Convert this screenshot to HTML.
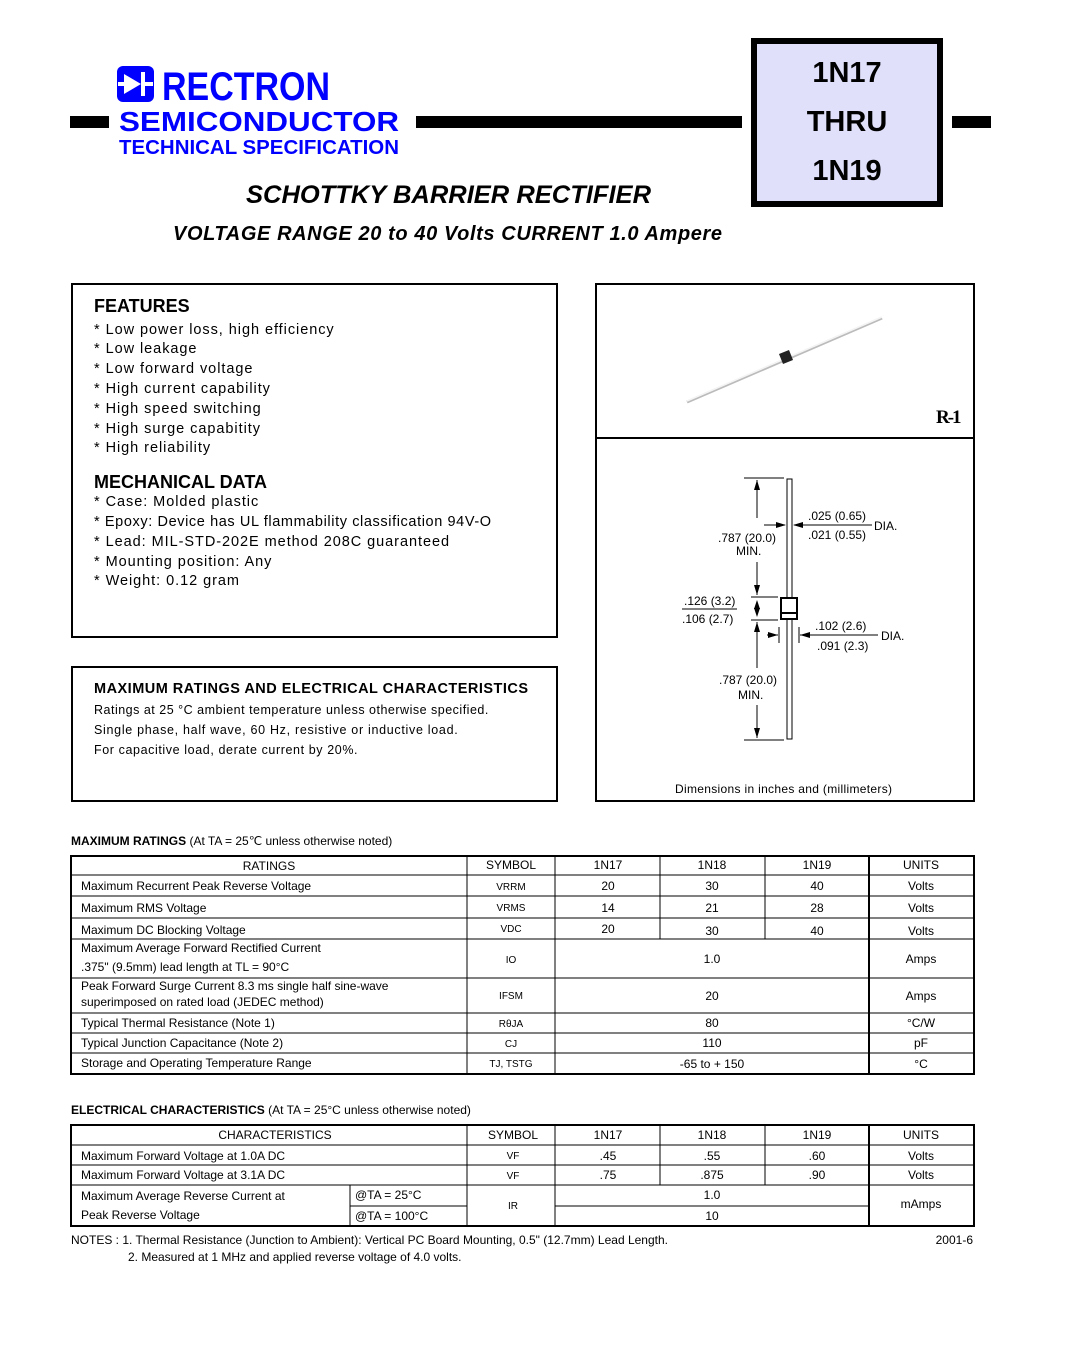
<!DOCTYPE html>
<html><head><meta charset="utf-8"><style>
html,body{margin:0;padding:0;background:#fff}
svg{display:block}
text{font-family:"Liberation Sans",Arial,sans-serif;fill:#000}
.t{font-size:12px}
.c{text-anchor:middle}
.f{font-size:14.5px;letter-spacing:0.95px}
.h{font-size:18px;font-weight:bold}
.d{font-size:12px}
</style></head><body>
<svg width="1069" height="1352" viewBox="0 0 1069 1352" xmlns="http://www.w3.org/2000/svg" xml:space="preserve">
<rect x="70" y="116" width="39" height="12" fill="#000"/>
<rect x="416" y="116" width="326" height="12" fill="#000"/>
<rect x="952" y="116" width="39" height="12" fill="#000"/>
<rect x="117" y="66" width="37" height="36" rx="6" fill="#0000ff"/>
<polygon points="124,74 141,84 124,94" fill="#fff"/>
<rect x="141" y="72" width="4" height="24" fill="#fff"/>
<rect x="118" y="82" width="8" height="4" fill="#fff"/>
<rect x="143" y="82" width="10" height="4" fill="#fff"/>
<text x="162" y="100" style="font-size:40px;font-weight:bold;fill:#0000ff" textLength="168" lengthAdjust="spacingAndGlyphs">RECTRON</text>
<text x="119" y="131" style="font-size:28px;font-weight:bold;fill:#0000ff" textLength="280" lengthAdjust="spacingAndGlyphs">SEMICONDUCTOR</text>
<text x="119" y="154" style="font-size:20px;font-weight:bold;fill:#0000ff" textLength="280" lengthAdjust="spacingAndGlyphs">TECHNICAL SPECIFICATION</text>
<rect x="754" y="41" width="186" height="163" fill="#e0e0fb" stroke="#000" stroke-width="6"/>
<text x="847" y="82" class="c" style="font-size:29px;font-weight:bold">1N17</text>
<text x="847" y="131" class="c" style="font-size:29px;font-weight:bold">THRU</text>
<text x="847" y="180" class="c" style="font-size:29px;font-weight:bold">1N19</text>
<text x="246" y="203" style="font-size:25px;font-weight:bold;font-style:italic" textLength="405" lengthAdjust="spacingAndGlyphs">SCHOTTKY BARRIER RECTIFIER</text>
<text x="173" y="240" style="font-size:20px;font-weight:bold;font-style:italic" textLength="549" lengthAdjust="spacing">VOLTAGE RANGE  20 to 40 Volts   CURRENT 1.0 Ampere</text>
<rect x="72" y="284" width="485" height="353" fill="none" stroke="#000" stroke-width="2"/>
<text x="94" y="312" class="h">FEATURES</text>
<text x="94" y="334" class="f">* Low power loss, high efficiency</text>
<text x="94" y="353" class="f">* Low leakage</text>
<text x="94" y="373" class="f">* Low forward voltage</text>
<text x="94" y="393" class="f">* High current capability</text>
<text x="94" y="413" class="f">* High speed switching</text>
<text x="94" y="433" class="f">* High surge capabitity</text>
<text x="94" y="452" class="f">* High reliability</text>
<text x="94" y="488" class="h">MECHANICAL DATA</text>
<text x="94" y="506" class="f">* Case: Molded plastic</text>
<text x="94" y="526" class="f" textLength="398" lengthAdjust="spacing">* Epoxy: Device has UL flammability classification 94V-O</text>
<text x="94" y="546" class="f">* Lead: MIL-STD-202E method 208C guaranteed</text>
<text x="94" y="566" class="f">* Mounting position: Any</text>
<text x="94" y="585" class="f">* Weight: 0.12 gram</text>
<rect x="72" y="667" width="485" height="134" fill="none" stroke="#000" stroke-width="2"/>
<text x="94" y="693" style="font-size:14.5px;font-weight:bold" textLength="434" lengthAdjust="spacing">MAXIMUM RATINGS AND ELECTRICAL CHARACTERISTICS</text>
<text x="94" y="714" style="font-size:12.5px;letter-spacing:0.5px">Ratings at 25 °C ambient temperature unless otherwise specified.</text>
<text x="94" y="734" style="font-size:12.5px;letter-spacing:0.7px">Single phase, half wave, 60 Hz, resistive or inductive load.</text>
<text x="94" y="754" style="font-size:12.5px;letter-spacing:0.6px">For capacitive load, derate current by 20%.</text>
<rect x="596" y="284" width="378" height="517" fill="none" stroke="#000" stroke-width="2"/>
<line x1="596" y1="438" x2="974" y2="438" stroke="#000" stroke-width="2"/>
<line x1="687" y1="402" x2="882" y2="318" stroke="#bbb" stroke-width="3"/>
<line x1="687" y1="401" x2="882" y2="317" stroke="#f4f4f4" stroke-width="1.5"/>
<polygon points="779,354 789,350 793,360 783,364" fill="#222"/>
<text x="936" y="423" style="font-family:'Liberation Serif',serif;font-size:19px;font-weight:bold;letter-spacing:-2px">R-1</text>
<g stroke="#000" fill="none" stroke-width="1">
<rect x="787" y="479" width="5" height="119"/>
<rect x="787" y="619" width="5" height="120"/>
<rect x="781" y="598" width="16" height="21" stroke-width="2"/>
<line x1="782" y1="613" x2="796" y2="613" stroke-width="2"/>
<line x1="744" y1="478" x2="784" y2="478"/>
<line x1="744" y1="740" x2="784" y2="740"/>
<line x1="751" y1="597" x2="778" y2="597"/>
<line x1="751" y1="620" x2="778" y2="620"/>
<line x1="757" y1="480" x2="757" y2="518"/>
<line x1="757" y1="562" x2="757" y2="595"/>
<line x1="757" y1="622" x2="757" y2="668"/>
<line x1="757" y1="705" x2="757" y2="738"/>
<line x1="764" y1="525" x2="785" y2="525"/>
<line x1="794" y1="525" x2="872" y2="525"/>
<line x1="767" y1="635" x2="778" y2="635"/>
<line x1="779" y1="627" x2="779" y2="643"/>
<line x1="799" y1="627" x2="799" y2="643"/>
<line x1="800" y1="635" x2="878" y2="635"/>
<line x1="682" y1="609" x2="737" y2="609"/>
</g>
<g fill="#000">
<polygon points="757,480 754,490 760,490"/>
<polygon points="757,595 754,585 760,585"/>
<polygon points="757,600 754,609 760,609"/>
<polygon points="757,617 754,608 760,608"/>
<polygon points="757,622 754,632 760,632"/>
<polygon points="757,738 754,728 760,728"/>
<polygon points="786,525 776,522 776,528"/>
<polygon points="793,525 803,522 803,528"/>
<polygon points="778,635 768,632 768,638"/>
<polygon points="800,635 810,632 810,638"/>
</g>
<text x="808" y="520" class="d">.025 (0.65)</text>
<text x="808" y="539" class="d">.021 (0.55)</text>
<text x="874" y="530" class="d">DIA.</text>
<text x="718" y="542" class="d">.787 (20.0)</text>
<text x="736" y="555" class="d">MIN.</text>
<text x="684" y="605" class="d">.126 (3.2)</text>
<text x="682" y="623" class="d">.106 (2.7)</text>
<text x="815" y="630" class="d">.102 (2.6)</text>
<text x="817" y="650" class="d">.091 (2.3)</text>
<text x="881" y="640" class="d">DIA.</text>
<text x="719" y="684" class="d">.787 (20.0)</text>
<text x="738" y="699" class="d">MIN.</text>
<text x="675" y="793" class="d" textLength="217" lengthAdjust="spacing">Dimensions in inches and (millimeters)</text>

<text x="71" y="845" class="t"><tspan style="font-weight:bold">MAXIMUM RATINGS</tspan> (At TA = 25℃ unless otherwise noted)</text>
<g stroke="#000" stroke-width="1">
<rect x="71" y="856" width="903" height="218" fill="none" stroke-width="2"/>
<line x1="71" y1="875" x2="974" y2="875"/>
<line x1="71" y1="896" x2="974" y2="896"/>
<line x1="71" y1="918" x2="974" y2="918"/>
<line x1="71" y1="939" x2="974" y2="939"/>
<line x1="71" y1="978" x2="974" y2="978"/>
<line x1="71" y1="1013" x2="974" y2="1013"/>
<line x1="71" y1="1033" x2="974" y2="1033"/>
<line x1="71" y1="1053" x2="974" y2="1053"/>
<line x1="467" y1="856" x2="467" y2="1074"/>
<line x1="555" y1="856" x2="555" y2="1074"/>
<line x1="869" y1="856" x2="869" y2="1074" stroke-width="2"/>
<line x1="660" y1="856" x2="660" y2="939"/>
<line x1="765" y1="856" x2="765" y2="939"/>
</g>
<text x="269" y="870" class="c t">RATINGS</text>
<text x="511" y="869" class="c t">SYMBOL</text>
<text x="608" y="869" class="c t">1N17</text>
<text x="712" y="869" class="c t">1N18</text>
<text x="817" y="869" class="c t">1N19</text>
<text x="921" y="869" class="c t">UNITS</text>
<text x="81" y="890" class="t">Maximum Recurrent Peak Reverse Voltage</text>
<text x="81" y="912" class="t">Maximum RMS Voltage</text>
<text x="81" y="934" class="t">Maximum DC Blocking Voltage</text>
<text x="81" y="952" class="t">Maximum Average Forward Rectified Current</text>
<text x="81" y="971" class="t">.375" (9.5mm) lead length at TL = 90°C</text>
<text x="81" y="990" class="t">Peak Forward Surge Current 8.3 ms single half sine-wave</text>
<text x="81" y="1006" class="t">superimposed on rated load (JEDEC method)</text>
<text x="81" y="1027" class="t">Typical Thermal Resistance (Note 1)</text>
<text x="81" y="1047" class="t">Typical Junction Capacitance (Note 2)</text>
<text x="81" y="1067" class="t">Storage and Operating Temperature Range</text>
<g style="font-size:10px">
<text x="511" y="890" class="c">VRRM</text>
<text x="511" y="911" class="c">VRMS</text>
<text x="511" y="932" class="c">VDC</text>
<text x="511" y="963" class="c">IO</text>
<text x="511" y="999" class="c">IFSM</text>
<text x="511" y="1027" class="c">RθJA</text>
<text x="511" y="1047" class="c">CJ</text>
<text x="511" y="1067" class="c">TJ, TSTG</text>
</g>
<text x="608" y="890" class="c t">20</text><text x="712" y="890" class="c t">30</text><text x="817" y="890" class="c t">40</text><text x="921" y="890" class="c t">Volts</text>
<text x="608" y="912" class="c t">14</text><text x="712" y="912" class="c t">21</text><text x="817" y="912" class="c t">28</text><text x="921" y="912" class="c t">Volts</text>
<text x="608" y="933" class="c t">20</text><text x="712" y="935" class="c t">30</text><text x="817" y="935" class="c t">40</text><text x="921" y="935" class="c t">Volts</text>
<text x="712" y="963" class="c t">1.0</text><text x="921" y="963" class="c t">Amps</text>
<text x="712" y="1000" class="c t">20</text><text x="921" y="1000" class="c t">Amps</text>
<text x="712" y="1027" class="c t">80</text><text x="921" y="1027" class="c t">°C/W</text>
<text x="712" y="1047" class="c t">110</text><text x="921" y="1047" class="c t">pF</text>
<text x="712" y="1068" class="c t">-65 to + 150</text><text x="921" y="1068" class="c t">°C</text>

<text x="71" y="1114" class="t"><tspan style="font-weight:bold">ELECTRICAL CHARACTERISTICS</tspan> (At TA = 25°C unless otherwise noted)</text>
<g stroke="#000" stroke-width="1">
<rect x="71" y="1125" width="903" height="101" fill="none" stroke-width="2"/>
<line x1="71" y1="1145" x2="974" y2="1145"/>
<line x1="71" y1="1165" x2="974" y2="1165"/>
<line x1="71" y1="1185" x2="974" y2="1185"/>
<line x1="350" y1="1206" x2="467" y2="1206"/>
<line x1="555" y1="1206" x2="869" y2="1206"/>
<line x1="350" y1="1185" x2="350" y2="1226"/>
<line x1="467" y1="1125" x2="467" y2="1226"/>
<line x1="555" y1="1125" x2="555" y2="1226"/>
<line x1="869" y1="1125" x2="869" y2="1226" stroke-width="2"/>
<line x1="660" y1="1125" x2="660" y2="1185"/>
<line x1="765" y1="1125" x2="765" y2="1185"/>
</g>
<text x="275" y="1139" class="c t">CHARACTERISTICS</text>
<text x="513" y="1139" class="c t">SYMBOL</text>
<text x="608" y="1139" class="c t">1N17</text>
<text x="712" y="1139" class="c t">1N18</text>
<text x="817" y="1139" class="c t">1N19</text>
<text x="921" y="1139" class="c t">UNITS</text>
<text x="81" y="1160" class="t">Maximum Forward Voltage at 1.0A DC</text>
<text x="81" y="1179" class="t">Maximum Forward Voltage at 3.1A DC</text>
<text x="81" y="1200" class="t">Maximum Average Reverse Current at</text>
<text x="81" y="1219" class="t">Peak Reverse Voltage</text>
<text x="355" y="1199" class="t">@TA = 25°C</text>
<text x="355" y="1220" class="t">@TA = 100°C</text>
<text x="513" y="1159" class="c" style="font-size:10px">VF</text>
<text x="513" y="1179" class="c" style="font-size:10px">VF</text>
<text x="513" y="1209" class="c" style="font-size:10px">IR</text>
<text x="608" y="1160" class="c t">.45</text><text x="712" y="1160" class="c t">.55</text><text x="817" y="1160" class="c t">.60</text><text x="921" y="1160" class="c t">Volts</text>
<text x="608" y="1179" class="c t">.75</text><text x="712" y="1179" class="c t">.875</text><text x="817" y="1179" class="c t">.90</text><text x="921" y="1179" class="c t">Volts</text>
<text x="712" y="1199" class="c t">1.0</text>
<text x="712" y="1220" class="c t">10</text>
<text x="921" y="1208" class="c t">mAmps</text>
<text x="71" y="1244" class="t">NOTES :  1. Thermal Resistance (Junction to Ambient): Vertical PC Board Mounting, 0.5" (12.7mm) Lead Length.</text>
<text x="128" y="1261" class="t">2. Measured at 1 MHz and applied reverse voltage of 4.0 volts.</text>
<text x="973" y="1244" class="t" style="text-anchor:end">2001-6</text>
</svg>
</body></html>
